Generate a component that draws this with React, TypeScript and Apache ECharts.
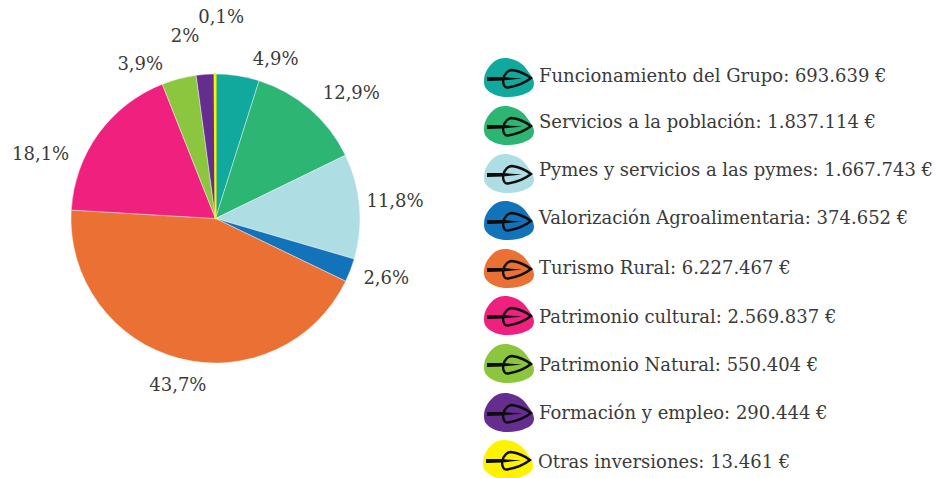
import React, { useEffect, useRef } from "react";
import * as echarts from "echarts";

const names = ["Funcionamiento del Grupo", "Servicios a la población", "Pymes y servicios a las pymes", "Valorización Agroalimentaria", "Turismo Rural", "Patrimonio cultural", "Patrimonio Natural", "Formación y empleo", "Otras inversiones"];
const values = [693639, 1837114, 1667743, 374652, 6227467, 2569837, 550404, 290444, 13461];
const amounts = ["693.639", "1.837.114", "1.667.743", "374.652", "6.227.467", "2.569.837", "550.404", "290.444", "13.461"];
const percents = ["4,9%", "12,9%", "11,8%", "2,6%", "43,7%", "18,1%", "3,9%", "2%", "0,1%"];
const colors = ["#11a99d", "#2db673", "#aedde4", "#1273bb", "#eb7033", "#f0207f", "#8cc63f", "#662d91", "#fff200"];
const rowY = [77, 125, 173, 220, 268, 315, 363, 412, 459];
const rowX = [484, 484, 484, 484, 484, 484, 484, 484, 483];
const textShift = [-2, -4, -4, -3, -1, 1, 1, 0, 2];
const labelShift = [[-22, -2], [-32, -5], [-43, -5], [-36, 2], [66, 12], [18, 28], [23, -1], [30, -24], [64, -43]];

const FONT = "DejaVu Serif";
const TEXT = "#3a3a3a";
const blob = "M21 0C28 0 38 3 44 13C47 17 50 21 50 25C50 30 47 33 42 35C36 38 28 39 20 38.500C13 38 6 35 2 30C0 27 0 23 0.500 19C2 12 6 7 11 3C14 1 17 0 21 0Z";
const leafOutline = "M19 22C20 15 25 12 28 12C35 13 43 17 47 20C42 24 33 28 24 29.500C21 30 19 27 19 22Z";
const stem = "M3 19L19 19L38 20.500L19 22.500L3 23Z";
echarts.graphic.registerShape("leafOutline", echarts.graphic.extendPath(leafOutline, {}));
echarts.graphic.registerShape("leafStem", echarts.graphic.extendPath(stem, {}));

export default function App() {
  const ref = useRef<HTMLDivElement>(null);
  useEffect(() => {
    const chart = echarts.init(ref.current!, null, { renderer: "svg" });
    chart.setOption({
      animation: false,
      backgroundColor: "#fff",
      color: colors,
      legend: names.map((n, i) => ({
        orient: "horizontal",
        left: rowX[i],
        top: rowY[i] - 19,
        data: [n],
        itemWidth: 50,
        itemHeight: 39,
        itemGap: 0,
        icon: "path://" + blob,
        symbolKeepAspect: false,
        itemStyle: { borderWidth: 0 },
        selectedMode: false,
        padding: 0,
        textStyle: {
          fontFamily: FONT, fontSize: 18, color: TEXT,
          rich: {
            t: {
              fontFamily: FONT, fontSize: 18, color: TEXT,
              padding: textShift[i] < 0 ? [0, 0, -2 * textShift[i], 0] : [2 * textShift[i], 0, 0, 0],
            },
          },
        },
        formatter: () => `{t|${n}: ${amounts[i]} €}`,
      })),
      graphic: names.flatMap((n, i) => [
        { type: "leafOutline", x: rowX[i], y: rowY[i] - 19, z: 20, style: { fill: "none", stroke: "#0d0d0d", lineWidth: 2.4 } },
        { type: "leafStem", x: rowX[i], y: rowY[i] - 19, z: 20, style: { fill: "#0d0d0d" } },
      ]),
      series: [{
        type: "pie",
        center: [215.5, 218.5],
        radius: [0, 144.5],
        startAngle: 90,
        clockwise: true,
        data: names.map((n, i) => ({
          name: n,
          value: values[i],
          label: { formatter: percents[i] },
          itemStyle: i === names.length - 1 ? { borderColor: colors[i], borderWidth: 2 } : { borderColor: "#ffffff", borderWidth: 0.4 },
        })),
        label: { show: true, position: "outside", fontFamily: FONT, fontSize: 18, color: TEXT },
        labelLine: { show: false },
        avoidLabelOverlap: false,
        labelLayout: (p: any) => ({ dx: labelShift[p.dataIndex][0], dy: labelShift[p.dataIndex][1] }),
      }],
    });
    return () => chart.dispose();
  }, []);
  return <div ref={ref} style={{ position: "fixed", left: 0, top: 0, width: 940, height: 478 }} />;
}
